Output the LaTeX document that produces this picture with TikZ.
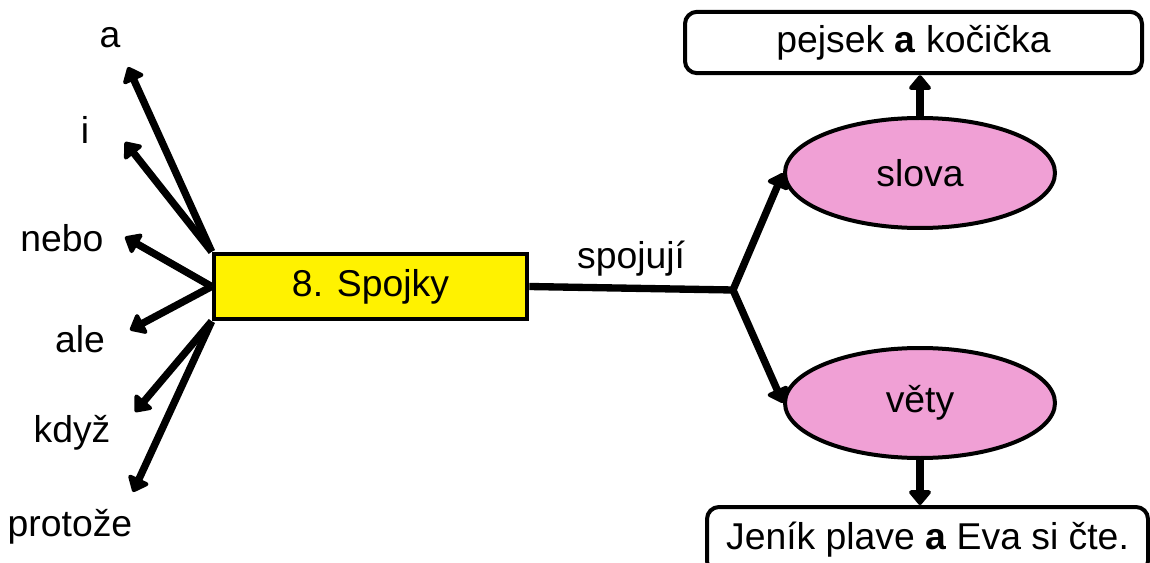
\documentclass[tikz,border=0pt]{standalone}
\usepackage{fontspec}
\setmainfont{Liberation Sans}
\usetikzlibrary{arrows.meta,shapes.geometric}
\definecolor{pinkfill}{RGB}{240,160,213}
\begin{document}
\begin{tikzpicture} [x=0.75pt,y=-0.75pt,font=\fontsize{28}{32}\selectfont]
	\tikzset{main/.style={draw,line width=3.5pt,fill=yellow,minimum width=234.75pt,minimum height=48.75pt,inner sep=0pt}}
	\tikzset{ell/.style={ellipse,draw,line width=3pt,fill=pinkfill,minimum width=202.5pt,minimum height=82.5pt,inner sep=0pt}}
	\tikzset{ex/.style={draw,line width=3pt,rounded corners=9pt,minimum height=46pt,inner sep=0pt}}
	\tikzset{arr/.style={line width=5.5pt,-{Triangle[length=12pt,width=19pt,round]}}}
	\useasboundingbox (0,0) rectangle (1150,563);

	\node[main]		(s)		at (370.5,286.5)	{8. Spojky};
	\node[ell]		(slova)	at (920,173)		{slova};
	\node[ell]		(vety)	at (920,403)		{věty};
	\node[ex,minimum width=342.75pt]	(p)	at (913.5,42.5)	{pejsek \textbf{a} kočička};
	\node[ex,minimum width=330.75pt,minimum height=49.5pt]	(j)	at (927.5,540)	{Jeník plave \textbf{a} Eva si čte.};
	\coordinate		(k)		at (733,290);

	% left side
	\coordinate (ta) at (128,67);
	\coordinate (ti) at (125,142);
	\coordinate (tn) at (125,237);
	\coordinate (tl) at (130,330);
	\coordinate (tk) at (135,412);
	\coordinate (tp) at (133,492);
	\node (la) at (110,38)	{a};
	\node (li) at (85,130)	{i};
	\node (ln) at (62,238)	{nebo};
	\node (ll) at (80,339)	{ale};
	\node (lk) at (72,433)	{když};
	\node (lp) at (70,527)	{protože};

	\path
		(s.north west) edge[arr]	(ta)
		(s.north west) edge[arr]	(ti)
		(s.west) edge[arr]			(tn)
		(s.west) edge[arr]			(tl)
		(s.south west) edge[arr]	(tk)
		(s.south west) edge[arr]	(tp)
		(s.east) edge[line width=5.5pt]	node[above=3pt]	{spojují}	(k)
		(k) edge[arr]				(slova.west)
		(k) edge[arr]				(vety.west)
		(slova.north) edge[arr]		(slova.north |- p.south)
		(vety.south) edge[arr]		(vety.south |- j.north)
		;
\end{tikzpicture}
\end{document}
